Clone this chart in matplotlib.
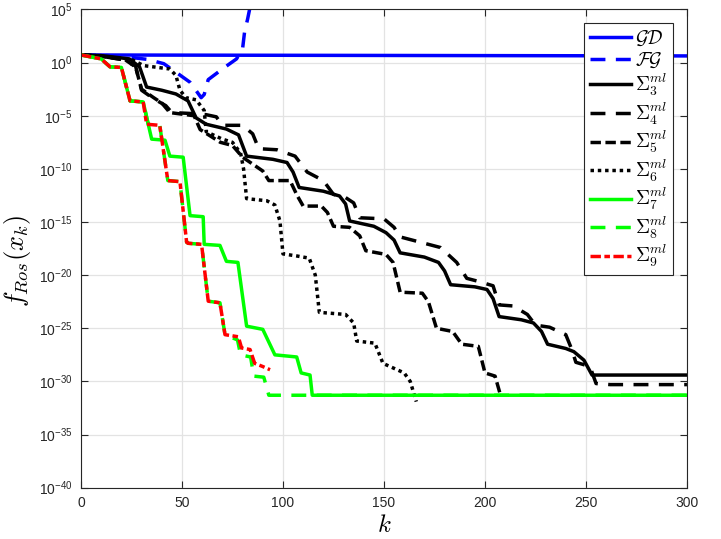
import numpy as np
import matplotlib
matplotlib.use("Agg")
import matplotlib.pyplot as plt
from matplotlib.ticker import FixedLocator, NullLocator

# MATLAB-like look: Helvetica-ish tick labels, LaTeX-ish math for labels
plt.rcParams['font.family'] = ['Liberation Sans', 'DejaVu Sans']
plt.rcParams['mathtext.fontset'] = 'custom'
plt.rcParams['mathtext.rm'] = 'Liberation Sans'
plt.rcParams['mathtext.it'] = 'Liberation Sans:italic'

# values: iteration k and log10 f_Ros(x_k)
k_gd = [0, 100, 200, 300]
e_gd = [0.72, 0.69, 0.66, 0.63]

k_fg = [0, 10, 20, 33, 41, 47, 54, 56.5, 59.5, 61, 63, 70, 77, 80, 81, 82.5, 84]
e_fg = [0.72, 0.68, 0.6, 0.3, -0.1, -0.9, -1.85, -2.5, -3.3, -3.0, -1.6, -0.6, 0.35, 1.3, 2.9, 4.1, 5.5]

k_s3 = [0, 10, 24, 29, 32.5, 40, 47, 53, 57, 62, 72, 78, 82, 95, 102, 105, 108, 120, 128, 131,
        133, 145, 151, 155, 158, 170, 177, 180, 183, 195, 201, 204, 207, 218, 224, 228, 231, 240,
        244, 249, 253, 300]
e_s3 = [0.72, 0.66, 0.35, -0.4, -2.3, -2.6, -2.95, -3.6, -5.2, -5.8, -6.25, -6.8, -8.8, -9.1, -9.4,
        -10.3, -11.75, -12.1, -12.55, -13.3, -14.9, -15.4, -16.0, -16.7, -17.9, -18.3, -18.8, -19.6,
        -20.9, -21.1, -21.35, -22.2, -23.9, -24.2, -24.5, -25.3, -26.5, -26.9, -27.2, -28.0, -29.4,
        -29.4]

k_s4 = [0, 10, 20, 27, 30, 36, 42, 45, 56, 62, 67, 70, 80, 85, 88, 97, 106, 112, 120, 125, 131,
        135, 138, 150, 155, 158, 168, 178, 186, 191, 197, 204, 207, 214, 221, 225, 232, 240, 243,
        245, 252, 255, 262, 300]
e_s4 = [0.72, 0.6, 0.3, -0.3, -2.6, -3.4, -4.05, -4.7, -4.8, -4.9, -5.1, -5.9, -5.9, -6.7, -8.1,
        -8.2, -8.8, -10.3, -11.1, -12.4, -12.7, -13.2, -14.6, -14.7, -15.5, -16.4, -16.9, -17.4,
        -18.8, -20.3, -20.6, -21.0, -22.8, -22.9, -23.7, -24.7, -24.9, -25.6, -27.0, -28.2, -28.6,
        -30.2, -30.3, -30.3]

k_s5 = [0, 10, 22, 27, 30, 36, 40, 44, 56, 59, 69, 75, 80, 90, 93, 103.5, 107, 110, 119, 122, 125,
        133, 138, 141, 151, 154.5, 158, 169, 172, 176, 184, 188.5, 196.7, 200, 205, 207.4]
e_s5 = [0.72, 0.6, 0.25, -0.4, -2.5, -3.3, -3.8, -4.7, -5.0, -6.3, -7.5, -7.8, -8.9, -10.2, -11.1,
        -11.1, -12.5, -13.5, -13.5, -14.1, -15.4, -15.5, -16.3, -17.7, -18.05, -18.8, -21.6, -21.7,
        -22.5, -25.0, -25.3, -26.5, -26.7, -29.2, -29.5, -31.1]

k_s6 = [0, 10, 25, 31, 44, 47, 49, 52, 57, 61, 62, 70, 75, 79, 80.5, 82, 92, 96, 98.5, 100, 107,
        113, 116, 118, 131, 135, 136.5, 145.5, 149.5, 160, 163, 166]
e_s6 = [0.72, 0.6, 0.3, -0.28, -0.6, -1.2, -2.6, -3.3, -3.5, -4.5, -6.5, -7.2, -7.5, -8.5, -10.0,
        -12.8, -13.0, -13.4, -14.9, -18.0, -18.2, -18.4, -20.0, -23.5, -23.7, -24.5, -26.2, -26.4,
        -28.3, -29.2, -30.0, -31.9]

k_s7 = [0, 10, 14.4, 20, 24.3, 30.8, 33.3, 35, 41.6, 44, 50.6, 54, 60.5, 61, 68.8, 72, 77.7, 82,
        90, 96, 106.8, 109, 113.4, 114.5, 300]
e_s7 = [0.72, 0.35, -0.4, -0.45, -3.6, -3.7, -5.8, -7.2, -7.3, -8.8, -8.9, -14.4, -14.5, -17.1,
        -17.2, -18.7, -18.8, -24.8, -25.1, -27.5, -27.7, -29.2, -29.4, -31.3, -31.3]

k_s8 = [0, 10, 14.4, 20, 24.3, 30.8, 33.3, 39, 43, 49, 52.3, 53, 59.7, 63, 68.8, 71.3, 77.5, 79,
        84, 85.5, 90.5, 93, 300]
e_s8 = [0.72, 0.35, -0.4, -0.45, -3.6, -3.7, -5.8, -5.9, -11.1, -11.2, -16.9, -17.0, -17.1, -22.45,
        -22.6, -25.6, -26.1, -27.5, -27.7, -29.5, -29.6, -31.3, -31.3]

k_s9 = [0, 10, 14.4, 20, 24.3, 30.8, 32.5, 39, 43, 49, 52.3, 53, 59.7, 63, 68.8, 71.3, 77.9, 79.5,
        83.7, 86, 90, 93.6]
e_s9 = [0.72, 0.35, -0.4, -0.45, -3.6, -3.7, -5.8, -5.9, -11.1, -11.2, -16.9, -17.0, -17.1, -22.45,
        -22.6, -25.6, -25.8, -26.85, -27.0, -28.3, -28.6, -28.9]

labels = [r'$\mathcal{GD}$', r'$\mathcal{FG}$', r'$\Sigma_3^{ml}$', r'$\Sigma_4^{ml}$',
          r'$\Sigma_5^{ml}$', r'$\Sigma_6^{ml}$', r'$\Sigma_7^{ml}$', r'$\Sigma_8^{ml}$',
          r'$\Sigma_9^{ml}$']

series = [(k_gd, e_gd), (k_fg, e_fg), (k_s3, e_s3), (k_s4, e_s4), (k_s5, e_s5),
          (k_s6, e_s6), (k_s7, e_s7), (k_s8, e_s8), (k_s9, e_s9)]
colors = ['#0000ff', '#0000ff', 'k', 'k', 'k', 'k', '#00ff00', '#00ff00', '#ff0000']
styles = ['-', (0, (4.3, 3.0)), '-', (0, (4.3, 3.0)), (0, (3.0, 1.3)), (0, (1.0, 1.1)),
          '-', (0, (4.3, 3.0)), (0, (3.0, 1.0, 1.6, 1.0))]

fig = plt.figure(figsize=(7.21, 5.39), dpi=100)
ax = fig.add_axes([0.1123, 0.0952, 0.8405, 0.8872])

for (k, e), c, ls, lab in zip(series, colors, styles, labels):
    ax.plot(k, 10.0 ** np.array(e), color=c, linestyle=ls, linewidth=2.5, label=lab)

ax.set_yscale('log')
ax.set_xlim(0, 300)
ax.set_ylim(1e-40, 1e5)
ax.set_xticks(range(0, 301, 50))
exps = list(range(-40, 6, 5))
ax.yaxis.set_major_locator(FixedLocator([10.0 ** p for p in exps]))
ax.yaxis.set_minor_locator(NullLocator())
ax.set_yticklabels([r'$\mathregular{10^{%d}}$' % p for p in exps])

ax.grid(True, color='#e3e3e3', linewidth=0.9)
ax.set_axisbelow(True)
ax.tick_params(direction='in', top=True, right=True, length=5, width=0.8,
               colors='#262626', labelsize=10, labelcolor='#262626', pad=6)
for sp in ax.spines.values():
    sp.set_color('#262626')
    sp.set_linewidth(0.8)

xl = ax.set_xlabel(r'$k$', fontsize=18, labelpad=2)
yl = ax.set_ylabel(r'$f_{Ros}(x_k)$', fontsize=19)
ax.yaxis.set_label_coords(-0.079, 0.475)
xl.set_math_fontfamily('cm')
yl.set_math_fontfamily('cm')

leg = ax.legend(loc='upper right', bbox_to_anchor=(0.977, 0.972), borderaxespad=0,
                fontsize=14, fancybox=False, framealpha=1, edgecolor='#262626',
                handlelength=2.1, handletextpad=0.2, labelspacing=0.12,
                borderpad=0.3)
leg.get_frame().set_linewidth(0.8)
for t in leg.get_texts():
    t.set_math_fontfamily('cm')

fig.savefig('out.png', dpi=100)
